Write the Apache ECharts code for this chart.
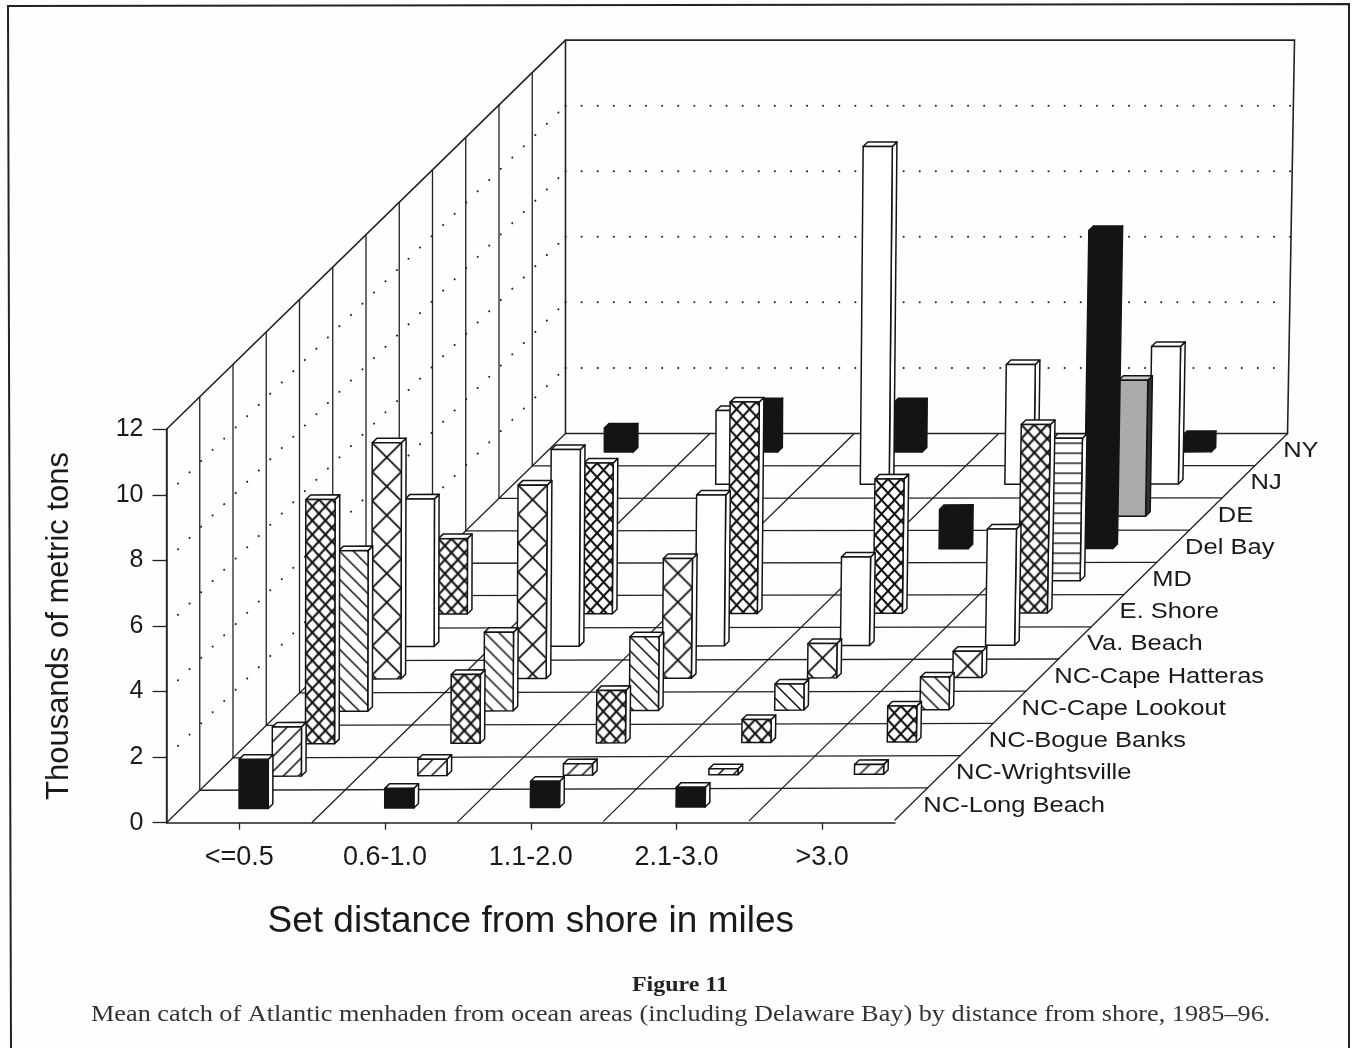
<!DOCTYPE html>
<html>
<head>
<meta charset="utf-8">
<style>html,body{margin:0;padding:0;background:#fff}#c{width:1352px;height:1048px}</style>
<script src="https://cdn.jsdelivr.net/npm/echarts@6/dist/echarts.min.js"></script>
</head>
<body>
<div id="c"></div>
<script>
// ---- data (thousands of metric tons), one array per area, one value per distance class ----
const categories = ['<=0.5', '0.6-1.0', '1.1-2.0', '2.1-3.0', '>3.0'];
const rowLabels = ['NC-Long Beach', 'NC-Wrightsville', 'NC-Bogue Banks', 'NC-Cape Lookout', 'NC-Cape Hatteras',
  'Va. Beach', 'E. Shore', 'MD', 'Del Bay', 'DE', 'NJ', 'NY'];
const ncLongBeach    = [1.5, 0.6, 0.8, 0.6, null];
const ncWrightsville = [1.5, 0.5, 0.35, 0.18, 0.3];
const ncBogueBanks   = [7.45, 2.1, 1.6, 0.7, 1.1];
const ncCapeLookout  = [4.9, 2.4, 2.25, 0.8, 1.0];
const ncCapeHatteras = [7.2, 5.9, 3.65, 1.05, 0.8];
const vaBeach        = [4.5, 6.0, 4.6, 2.7, 3.55];
const eShore         = [2.3, 4.6, 6.45, 4.1, 5.75];
const md             = [null, null, null, null, 4.35];
const delBay         = [null, null, null, 1.2, 9.7];
const de             = [null, null, null, null, 4.15];
const nj             = [null, 2.25, 10.3, 3.65, 4.2];
const ny             = [0.73, 1.5, 1.5, null, 0.5];
const rows = [ncLongBeach, ncWrightsville, ncBogueBanks, ncCapeLookout, ncCapeHatteras, vaBeach, eShore, md, delBay, de, nj, ny];
const yTicks = [0, 2, 4, 6, 8, 10, 12];

// ---- oblique projection expressed in axis units ----
const DEPTHS = 12;
const DX = 33.25 / 145.7;   // category-axis units per row of depth
const DY = 32.45 / 32.8;    // value-axis units per row of depth
function project(cat, depth, v) {
  return [
    cat * (1 - 0.00074 * depth) + depth * DX + cat * v * 0.0008,
    v + depth * DY + cat * (1 - depth / DEPTHS) * 0.016
  ];
}
const BAR_W = 0.2, BAR_D = 0.14;

// ---- fills ----
function tile(w, h, draw) {
  const c = document.createElement('canvas');
  c.width = w; c.height = h;
  const g = c.getContext('2d');
  g.fillStyle = '#fff'; g.fillRect(0, 0, w, h);
  g.strokeStyle = '#111'; g.lineCap = 'square';
  draw(g, w, h);
  return c;
}
function slashes(g, w, h, dir) {
  g.beginPath();
  for (let k = -1; k <= 1; k++) {
    if (dir > 0) { g.moveTo(k * w, h); g.lineTo(k * w + w, 0); }
    else { g.moveTo(k * w, 0); g.lineTo(k * w + w, h); }
  }
  g.stroke();
}
const patDense = tile(13, 14, (g, w, h) => { g.lineWidth = 2.1; slashes(g, w, h, 1); slashes(g, w, h, -1); });
const patBigX  = tile(29, 29, (g, w, h) => { g.lineWidth = 1.8; slashes(g, w, h, 1); slashes(g, w, h, -1); });
const patBack  = tile(14, 14, (g, w, h) => { g.lineWidth = 1.5; slashes(g, w, h, -1); });
const patFwd   = tile(15, 15, (g, w, h) => { g.lineWidth = 1.5; slashes(g, w, h, 1); });
const patHoriz = tile(4, 10, (g, w, h) => { g.lineWidth = 1.4; g.beginPath(); g.moveTo(0, 5); g.lineTo(w, 5); g.stroke(); });

const INK = '#141414';
const rowStyle = [
  { front: INK, side: '#fff', top: '#fff' },
  { front: patFwd, side: '#fff', top: '#fff' },
  { front: patDense, side: '#fff', top: '#fff' },
  { front: patBack, side: '#fff', top: '#fff' },
  { front: patBigX, side: '#fff', top: '#fff' },
  { front: '#fff', side: '#fff', top: '#fff' },
  { front: patDense, side: '#fff', top: '#fff' },
  { front: patHoriz, side: '#fff', top: '#fff' },
  { front: INK, side: INK, top: INK },
  { front: '#ababab', side: '#333', top: '#ccc' },
  { front: '#fff', side: '#fff', top: '#fff' },
  { front: INK, side: INK, top: INK }
];

// ---- series data built from the arrays, painted back to front ----
const barData = [];
for (let r = rows.length - 1; r >= 0; r--) {
  rows[r].forEach((v, c) => { if (v != null) barData.push([c, r, v]); });
}
const K = { floorRow: 0, floorCat: 1, wallV: 2, wallDots: 3, backDots: 4, backFrame: 5 };
const frameData = [];
for (let d = 1; d <= DEPTHS; d++) frameData.push([K.floorRow, d]);
for (let c = 0; c <= categories.length; c++) frameData.push([K.floorCat, c]);
for (let d = 0; d < DEPTHS; d++) frameData.push([K.wallV, d]);
yTicks.slice(1, -1).forEach(t => { frameData.push([K.wallDots, t]); frameData.push([K.backDots, t]); });
frameData.push([K.backFrame, 0]);

const labelData = rowLabels.map((_, i) => [i]);

function pts(api, list) { return list.map(p => api.coord(project(p[0], p[1], p[2]))); }

function renderFrame(params, api) {
  const kind = api.value(0), n = api.value(1), C = categories.length;
  let a, dash = null, lw = 1.3, stroke = '#222';
  const poly = p => ({ type: 'polyline', silent: true,
    shape: { points: pts(api, p) },
    style: { fill: null, stroke, lineWidth: lw, lineDash: dash, lineCap: 'round' } });
  if (kind === K.floorRow) a = [[0, n, 0], [C, n, 0]];
  else if (kind === K.floorCat) a = [[n, 0, 0], [n, DEPTHS, 0]];
  else if (kind === K.wallV) a = [[0, n, 0], [0, n, 12]];
  else if (kind === K.wallDots) { a = [[0, 0, n], [0, DEPTHS, n]]; dash = [0.1, 16]; lw = 2; }
  else if (kind === K.backDots) { a = [[0, DEPTHS, n], [C, DEPTHS, n]]; dash = [0.1, 16]; lw = 2; }
  else {
    lw = 1.6;
    a = [[0, 0, 12], [0, DEPTHS, 12], [C, DEPTHS, 12], [C, DEPTHS, 0]];
    return { type: 'group', children: [poly(a), poly([[0, DEPTHS, 0], [0, DEPTHS, 12]])] };
  }
  return poly(a);
}

function renderBar(params, api) {
  const c = api.value(0), r = api.value(1), v = api.value(2);
  const x0 = c + 0.5 - BAR_W / 2, x1 = x0 + BAR_W;
  const d0 = r + 0.5 - BAR_D / 2, d1 = d0 + BAR_D;
  const st = rowStyle[r];
  const lw = 1.5;
  const frontPts = pts(api, [[x0, d0, 0], [x1, d0, 0], [x1, d0, v], [x0, d0, v]]);
  let fill = st.front;
  if (typeof fill !== 'string') {
    fill = { image: fill, repeat: 'repeat', x: frontPts[3][0], y: frontPts[3][1] };
  }
  const face = (points, f) => ({ type: 'polygon', shape: { points },
    style: { fill: f, stroke: INK, lineWidth: lw, lineJoin: 'round' } });
  return { type: 'group', children: [
    face(pts(api, [[x1, d0, 0], [x1, d1, 0], [x1, d1, v], [x1, d0, v]]), st.side),
    face(pts(api, [[x0, d0, v], [x1, d0, v], [x1, d1, v], [x0, d1, v]]), st.top),
    face(frontPts, fill)
  ] };
}

function renderLabel(params, api) {
  const i = api.value(0);
  const p = api.coord(project(categories.length, i + 0.5, 0));
  return { type: 'text', silent: true, x: p[0] + 12, y: p[1] + 1.5, scaleX: 1.16,
    style: { text: rowLabels[i], fill: '#1a1a1a', font: '22px "Liberation Sans"', align: 'left', verticalAlign: 'middle' } };
}

const chart = echarts.init(document.getElementById('c'), null, { renderer: 'canvas' });
chart.setOption({
  animation: false,
  backgroundColor: '#fefefe',
  grid: { left: 166.5, top: 429.3, width: 728.5, height: 393.4, containLabel: false },
  graphic: [
    { type: 'polyline', silent: true,
      shape: { points: [[11, 1048], [8, 6], [1349, 4], [1349, 1048]] },
      style: { fill: null, stroke: '#222', lineWidth: 2 } },
    { type: 'text', silent: true, x: 632, y: 975, scaleX: 1.14,
      style: { text: 'Figure 11', font: 'bold 21px "Liberation Serif"', fill: '#222' } },
    { type: 'text', silent: true, x: 91, y: 1003, scaleX: 1.142,
      style: { text: 'Mean catch of Atlantic menhaden from ocean areas (including Delaware Bay) by distance from shore, 1985\u201396.',
        font: '23px "Liberation Serif"', fill: '#333' } }
  ],
  xAxis: [
    { type: 'category', data: categories, boundaryGap: true, gridIndex: 0,
      name: 'Set distance from shore in miles', nameLocation: 'middle', nameGap: 81,
      nameTextStyle: { fontFamily: 'Liberation Sans', fontSize: 37, color: '#1a1a1a' },
      axisLine: { lineStyle: { color: '#222', width: 1.5 } },
      axisTick: { alignWithLabel: true, show: true, length: 7, lineStyle: { color: '#222', width: 1.3 }, interval: 0 },
      splitLine: { show: false },
      axisLabel: { fontFamily: 'Liberation Sans', fontSize: 27, color: '#1a1a1a', margin: 21, interval: 0 } },
    { type: 'value', show: false, min: 0, max: 5, gridIndex: 0 }
  ],
  yAxis: [{
    type: 'value', min: 0, max: 12, interval: 2,
    name: 'Thousands of metric tons', nameLocation: 'middle', nameRotate: 90, nameGap: 92,
    nameTextStyle: { fontFamily: 'Liberation Sans', fontSize: 31, color: '#1a1a1a' },
    axisLine: { show: true, lineStyle: { color: '#222', width: 1.5 } },
    axisTick: { show: true, length: 14, lineStyle: { color: '#222', width: 1.3 } },
    splitLine: { show: false },
    axisLabel: { fontFamily: 'Liberation Sans', fontSize: 25, color: '#1a1a1a', margin: 23,
      formatter: v => String(v) }
  }],
  series: [
    { type: 'custom', name: 'frame', xAxisIndex: 1, yAxisIndex: 0, clip: false, silent: true, z: 1,
      encode: { x: 0, y: 1 }, renderItem: renderFrame, data: frameData },
    { type: 'custom', name: 'catch', xAxisIndex: 1, yAxisIndex: 0, clip: false, silent: true, z: 3,
      dimensions: ['distance', 'area', 'catch'], encode: { x: 0, y: 2 }, renderItem: renderBar, data: barData },
    { type: 'custom', name: 'areas', xAxisIndex: 1, yAxisIndex: 0, clip: false, silent: true, z: 4,
      encode: { x: 0, y: 0 }, renderItem: renderLabel, data: labelData }
  ]
});
</script>
</body>
</html>
